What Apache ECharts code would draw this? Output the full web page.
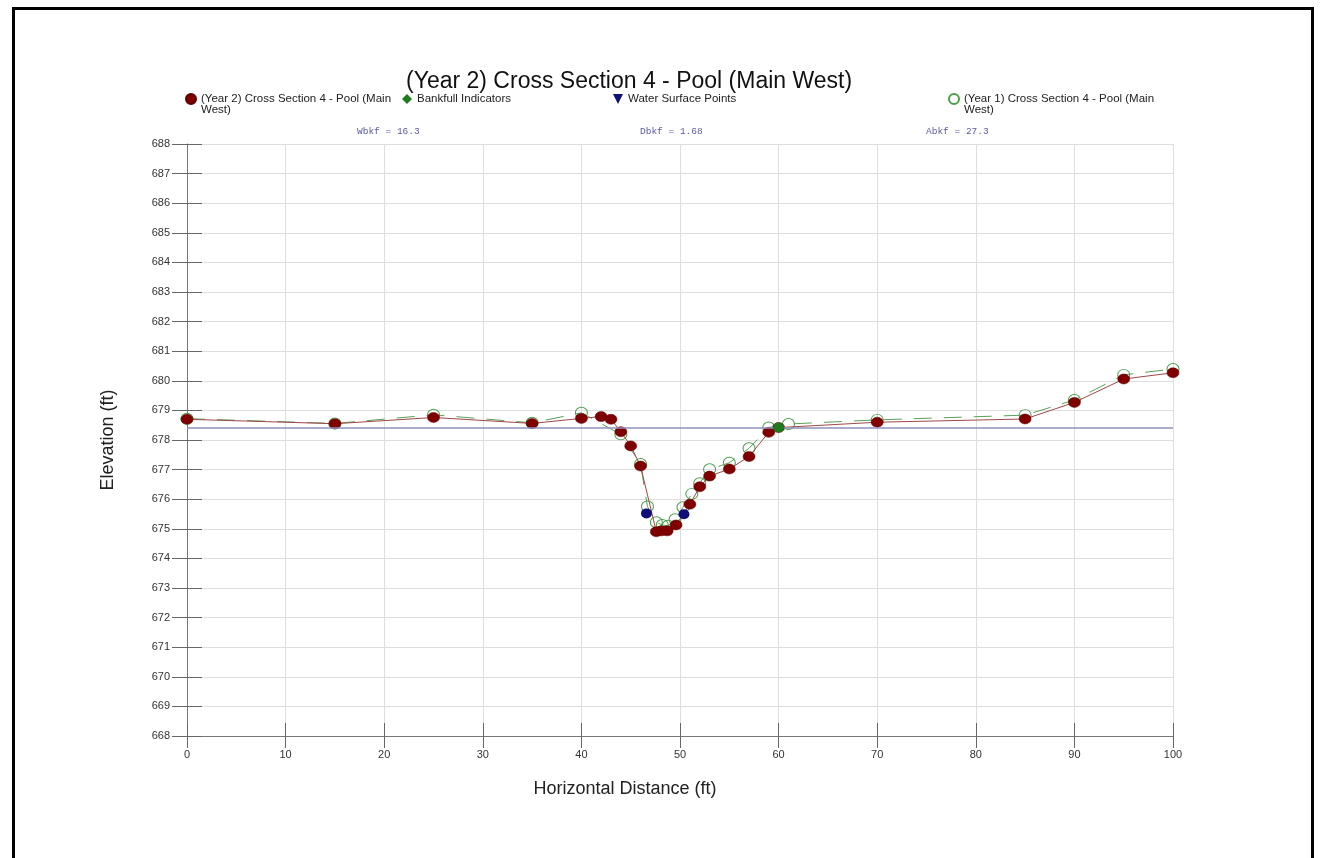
<!DOCTYPE html>
<html>
<head>
<meta charset="utf-8">
<script src="https://cdn.jsdelivr.net/npm/echarts@6/dist/echarts.min.js"></script>
<style>
html,body{margin:0;padding:0;background:#fff;}
#c{position:absolute;left:0;top:0;width:1323px;height:858px;}
#frame{position:absolute;left:12px;top:7px;width:1296px;height:900px;border:3px solid #000;pointer-events:none;}
</style>
</head>
<body>
<div id="c"></div>
<div id="frame"></div>
<script>
// ---- data ----
const year2Name = '(Year 2) Cross Section 4 - Pool (Main West)';
const year1Name = '(Year 1) Cross Section 4 - Pool (Main West)';
const year2X = [0, 15, 25, 35, 40, 42, 43, 44, 45, 46, 47.6, 48.1, 48.7, 49.6, 51, 52, 53, 55, 57, 59, 60, 70, 85, 90, 95, 100];
const year2Y = [678.7, 678.55, 678.76, 678.56, 678.73, 678.79, 678.7, 678.28, 677.8, 677.12, 674.9, 674.93, 674.93, 675.13, 675.83, 676.42, 676.78, 677.02, 677.44, 678.26, 678.42, 678.6, 678.71, 679.27, 680.06, 680.27];
const year1X = [0, 15, 25, 35, 40, 44, 46, 46.7, 47.6, 48.2, 48.8, 49.5, 50.3, 51.2, 52, 53, 55, 57, 59, 61, 70, 85, 90, 95, 100];
const year1Y = [678.72, 678.56, 678.85, 678.58, 678.92, 678.19, 677.19, 675.75, 675.22, 675.13, 675.1, 675.32, 675.73, 676.18, 676.54, 677.01, 677.23, 677.72, 678.42, 678.54, 678.68, 678.84, 679.35, 680.2, 680.4];
const waterX = [46.6, 50.4];
const waterY = [675.52, 675.49];
const bankfullX = [60];
const bankfullY = [678.42];
const bankfullElev = 678.42;
const annotations = ['Wbkf = 16.3', 'Dbkf = 1.68', 'Abkf = 27.3'];
const xTicks = {min: 0, max: 100, interval: 10};
const yTicks = {min: 668, max: 688, interval: 1};

const zip = (xs, ys) => xs.map((x, i) => [x, ys[i]]);
// leading blank line keeps the first text line level with the legend icon
const wrapName = n => ' \n' + n.replace('(Main West)', '(Main\nWest)');

const chart = echarts.init(document.getElementById('c'), null, {renderer: 'canvas'});
const font = 'Liberation Sans, Arial, sans-serif';
const gridLeft = 187, gridTop = 144, gridRight = 150, gridBottom = 122;

const legendText = {fontFamily: font, fontSize: 11.5, color: '#222', lineHeight: 11};
const legendBase = {
  orient: 'horizontal', padding: 0, itemWidth: 10, itemHeight: 10,
  textStyle: legendText, selectedMode: false
};
const monoFont = '9.5px "Liberation Mono", "DejaVu Sans Mono", monospace';

chart.setOption({
  animation: false,
  backgroundColor: '#fff',
  title: {
    text: '(Year 2) Cross Section 4 - Pool (Main West)',
    left: 401, top: 65,
    textStyle: {fontFamily: font, fontSize: 23, fontWeight: 'normal', color: '#111'}
  },
  legend: [
    Object.assign({}, legendBase, {formatter: wrapName, data: [{name: year2Name, icon: 'circle'}], left: 185, top: 82}),
    Object.assign({}, legendBase, {data: [{name: 'Bankfull Indicators', icon: 'diamond'}], left: 402, top: 93}),
    Object.assign({}, legendBase, {data: [{name: 'Water Surface Points', icon: 'path://M0,0 L10,0 L5,10 Z'}], left: 613, top: 93}),
    Object.assign({}, legendBase, {formatter: wrapName, data: [{name: year1Name, icon: 'circle'}], left: 948, top: 82})
  ],
  graphic: [
    {type: 'text', left: 357, top: 126, style: {text: annotations[0], font: monoFont, fill: '#5a5aa8'}},
    {type: 'text', left: 640, top: 126, style: {text: annotations[1], font: monoFont, fill: '#5a5aa8'}},
    {type: 'text', left: 926, top: 126, style: {text: annotations[2], font: monoFont, fill: '#5a5aa8'}}
  ],
  grid: {left: gridLeft, top: gridTop, right: gridRight, bottom: gridBottom, containLabel: false},
  xAxis: [
    {
      type: 'value', min: xTicks.min, max: xTicks.max, interval: xTicks.interval,
      name: 'Horizontal Distance (ft)', nameLocation: 'middle', nameGap: 44,
      nameTextStyle: {fontFamily: font, fontSize: 18, color: '#222', padding: [0, 110, 0, 0]},
      axisLine: {show: true, lineStyle: {color: '#777', width: 1}},
      axisTick: {show: true, length: 12, lineStyle: {color: '#666'}},
      axisLabel: {fontFamily: font, fontSize: 11, color: '#333', margin: 13},
      splitLine: {show: true, lineStyle: {color: '#dedede', width: 1}}
    },
    {
      type: 'value', position: 'bottom', min: xTicks.min, max: xTicks.max, interval: xTicks.interval,
      axisLine: {show: false}, axisTick: {show: true, inside: true, length: 13, lineStyle: {color: '#666'}},
      axisLabel: {show: false}, splitLine: {show: false}
    }
  ],
  yAxis: [
    {
      type: 'value', min: yTicks.min, max: yTicks.max, interval: yTicks.interval,
      name: 'Elevation (ft)', nameLocation: 'middle', nameGap: 70,
      nameTextStyle: {fontFamily: font, fontSize: 18, color: '#222'},
      axisLine: {show: true, lineStyle: {color: '#777', width: 1}},
      axisTick: {show: true, length: 15, lineStyle: {color: '#666'}},
      axisLabel: {fontFamily: font, fontSize: 11, color: '#333', margin: 17},
      splitLine: {show: true, lineStyle: {color: '#dedede', width: 1}}
    },
    {
      type: 'value', position: 'left', min: yTicks.min, max: yTicks.max, interval: yTicks.interval,
      axisLine: {show: false}, axisTick: {show: true, inside: true, length: 15, lineStyle: {color: '#666'}},
      axisLabel: {show: false}, splitLine: {show: false}
    }
  ],
  series: [
    {
      name: year1Name, type: 'line', data: zip(year1X, year1Y), z: 2,
      symbol: 'circle', symbolSize: [12, 11],
      itemStyle: {color: 'rgba(255,255,255,0)', borderColor: '#4a9e4a', borderWidth: 1},
      lineStyle: {color: '#5aa05a', width: 1, type: [18, 12]},
      clip: true
    },
    {
      name: year2Name, type: 'line', data: zip(year2X, year2Y), z: 3,
      symbol: 'circle', symbolSize: [12, 10],
      itemStyle: {color: '#800000', borderColor: '#5a0000', borderWidth: 0.5},
      lineStyle: {color: '#a04848', width: 1},
      markLine: {
        silent: true, symbol: 'none', label: {show: false},
        lineStyle: {color: '#9090bd', width: 1.5, type: 'solid'},
        data: [{yAxis: bankfullElev}]
      },
      clip: true
    },
    {
      name: 'Water Surface Points', type: 'scatter', data: zip(waterX, waterY), z: 4,
      symbol: 'circle', symbolSize: [11, 10],
      itemStyle: {color: '#10107a', opacity: 1}
    },
    {
      name: 'Bankfull Indicators', type: 'scatter', data: zip(bankfullX, bankfullY), z: 5,
      symbol: 'circle', symbolSize: [11, 10],
      itemStyle: {color: '#1e7a1e', opacity: 1}
    }
  ]
});
</script>
</body>
</html>
